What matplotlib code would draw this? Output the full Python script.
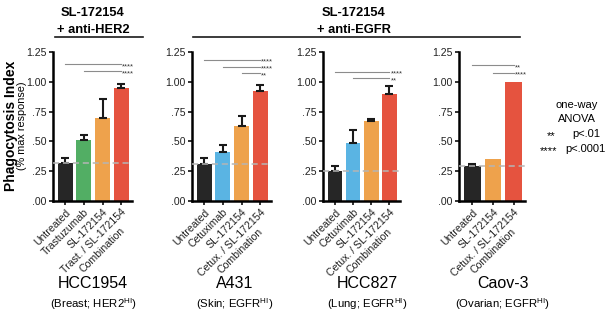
import matplotlib
matplotlib.use("Agg")
import matplotlib.pyplot as plt
from matplotlib.lines import Line2D

plt.rcParams['font.family'] = ['Liberation Sans', 'DejaVu Sans']
plt.rcParams['mathtext.fontset'] = 'custom'
plt.rcParams['mathtext.rm'] = 'Liberation Sans'
plt.rcParams['mathtext.it'] = 'Liberation Sans:italic'
plt.rcParams['mathtext.bf'] = 'Liberation Sans:bold'

# ======================
# DADOS
# ======================
hcc1954_labels = ['Untreated', 'Trastuzumab', 'SL-172154', 'Trast. / SL-172154\nCombination']
hcc1954_media = [0.32, 0.51, 0.70, 0.945]
hcc1954_erro = [0.04, 0.045, 0.155, 0.035]
hcc1954_sig_de = [0, 1]
hcc1954_sig_y = [1.148, 1.087]
hcc1954_sig_txt = ['****', '****']

a431_labels = ['Untreated', 'Cetuximab', 'SL-172154', 'Cetux. / SL-172154\nCombination']
a431_media = [0.31, 0.41, 0.63, 0.925]
a431_erro = [0.05, 0.06, 0.085, 0.045]
a431_sig_de = [0, 1, 2]
a431_sig_y = [1.187, 1.128, 1.07]
a431_sig_txt = ['****', '****', '**']

hcc827_labels = ['Untreated', 'Cetuximab', 'SL-172154', 'Cetux. / SL-172154\nCombination']
hcc827_media = [0.25, 0.485, 0.675, 0.895]
hcc827_erro = [0.04, 0.11, 0.012, 0.07]
hcc827_sig_de = [0, 1]
hcc827_sig_y = [1.084, 1.028]
hcc827_sig_txt = ['****', '**']

caov3_labels = ['Untreated', 'SL-172154', 'Cetux. / SL-172154\nCombination']
caov3_media = [0.29, 0.35, 1.0]
caov3_erro = [0.022, 0.0, 0.0]
caov3_sig_de = [0, 1]
caov3_sig_y = [1.14, 1.078]
caov3_sig_txt = ['**', '****']

cor_preto = '#262626'
cor_verde = '#52ae64'
cor_azul = '#5ab4e3'
cor_laranja = '#eea24c'
cor_vermelho = '#e5533f'

W, H = 608, 331
fig = plt.figure(figsize=(W / 100, H / 100), dpi=100)


def painel(left, width, labels, media, erro, cores, sig_de, sig_y, sig_txt):
    ax = fig.add_axes([left / W, 1 - 201 / H, width / W, 149 / H])
    x = list(range(len(media)))
    ax.bar(x, media, width=0.8, color=cores, edgecolor='none', zorder=2)
    # so desenha barra de erro quando existe erro
    idx = [i for i in x if erro[i] > 0]
    ax.errorbar([x[i] for i in idx], [media[i] for i in idx],
                yerr=[[0] * len(idx), [erro[i] for i in idx]], fmt='none', ecolor='#1a1a1a',
                elinewidth=1.5, capsize=2.6, capthick=1.5, zorder=3)
    # linha tracejada no nivel do controle
    ax.axhline(media[0], color='#b5b5b5', ls=(0, (4, 2.5)), lw=1.1, zorder=4)
    # barras de significancia
    fim = x[-1]
    for de, y, txt in zip(sig_de, sig_y, sig_txt):
        ax.plot([de, fim], [y, y], color='#8c8c8c', lw=0.8, clip_on=False)
        ax.text(fim + 0.05, y - 0.02, txt, fontsize=5.5, va='center', ha='left', color='#333333')
    ax.set_xlim(-0.65, len(media) - 0.45)
    ax.set_ylim(0, 1.25)
    ax.set_yticks([0, 0.25, 0.5, 0.75, 1.0, 1.25])
    ax.set_yticklabels(['.00', '.25', '.50', '.75', '1.00', '1.25'])
    ax.set_xticks(x)
    ax.set_xticklabels(labels, rotation=45, ha='right', va='top', rotation_mode='anchor',
                       multialignment='center')
    for s in ['top', 'right']:
        ax.spines[s].set_visible(False)
    for s in ['left', 'bottom']:
        ax.spines[s].set_linewidth(1.8)
    ax.tick_params(direction='out', length=3, width=1.3, labelsize=7.6, pad=1.5,
                   colors='#222222')
    return ax


painel(53, 78.5, hcc1954_labels, hcc1954_media, hcc1954_erro,
       [cor_preto, cor_verde, cor_laranja, cor_vermelho], hcc1954_sig_de, hcc1954_sig_y, hcc1954_sig_txt)
painel(192, 78.5, a431_labels, a431_media, a431_erro,
       [cor_preto, cor_azul, cor_laranja, cor_vermelho], a431_sig_de, a431_sig_y, a431_sig_txt)
painel(323, 76.5, hcc827_labels, hcc827_media, hcc827_erro,
       [cor_preto, cor_azul, cor_laranja, cor_vermelho], hcc827_sig_de, hcc827_sig_y, hcc827_sig_txt)
painel(459, 66, caov3_labels, caov3_media, caov3_erro,
       [cor_preto, cor_laranja, cor_vermelho], caov3_sig_de, caov3_sig_y, caov3_sig_txt)


def ftext(x, y, s, **kw):
    fig.text(x / W, 1 - y / H, s, **kw)


def fline(x1, x2, y):
    fig.add_artist(Line2D([x1 / W, x2 / W], [1 - y / H, 1 - y / H], color='#1a1a1a', lw=1.2))


# titulos
ftext(93, 13, 'SL-172154', fontsize=9.3, fontweight='bold', ha='center', va='center')
ftext(93, 30, '+ anti-HER2', fontsize=9.3, fontweight='bold', ha='center', va='center')
fline(55, 143, 37)
ftext(354, 13, 'SL-172154', fontsize=9.3, fontweight='bold', ha='center', va='center')
ftext(354, 30, '+ anti-EGFR', fontsize=9.3, fontweight='bold', ha='center', va='center')
fline(193, 520, 37)

# eixo y
ftext(11, 126, 'Phagocytosis Index', fontsize=10, fontweight='bold', rotation=90, ha='center', va='center')
ftext(22.5, 126, '(% max response)', fontsize=7.8, rotation=90, ha='center', va='center')

# linhagens
celulas = ['HCC1954', 'A431', 'HCC827', 'Caov-3']
tipos = [r'(Breast; HER2$^{\mathrm{HI}}$)', r'(Skin; EGFR$^{\mathrm{HI}}$)',
         r'(Lung; EGFR$^{\mathrm{HI}}$)', r'(Ovarian; EGFR$^{\mathrm{HI}}$)']
centros = [93, 235, 367, 503]
for c, t, xc in zip(celulas, tipos, centros):
    ftext(xc, 284, c, fontsize=11.5, ha='center', va='center')
    ftext(xc, 304, t, fontsize=8.2, ha='center', va='center')

# legenda ANOVA
ftext(577, 105, 'one-way', fontsize=8, ha='center', va='center')
ftext(577, 119, 'ANOVA', fontsize=8, ha='center', va='center')
ftext(551, 136, '**', fontsize=8, ha='center', va='center')
ftext(586, 134, 'p<.01', fontsize=8, ha='center', va='center')
ftext(549, 151, '****', fontsize=8, ha='center', va='center')
ftext(585, 149, 'p<.0001', fontsize=8, ha='center', va='center')

plt.savefig('out.png', dpi=100)
